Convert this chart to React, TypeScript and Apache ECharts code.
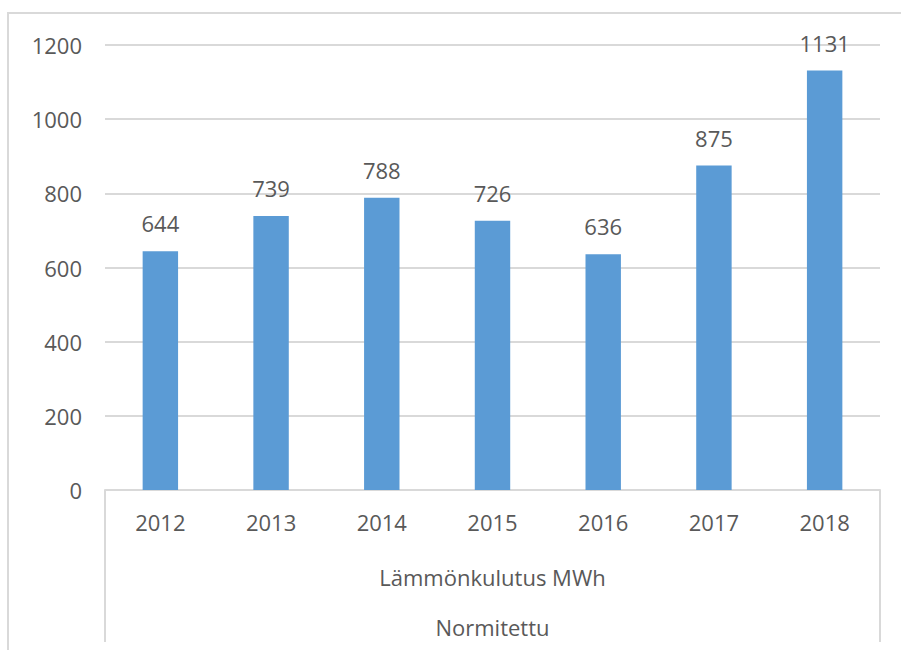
import React, { useEffect, useRef } from "react";
import * as echarts from "echarts";

const categories = ["2012", "2013", "2014", "2015", "2016", "2017", "2018"];
const values = [644, 739, 788, 726, 636, 875, 1131];
const groupLabels = ["Lämmönkulutus MWh", "Normitettu"];

const W = 901;
const H = 650;
const GRID_LEFT = 105;
const GRID_RIGHT = 880;
const GRID_TOP = 45;
const GRID_BOTTOM = 490;
const FONT = "'Open Sans', 'Noto Sans', sans-serif";
const TEXT = "#595959";
const LINE = "#D9D9D9";

export default function App() {
  const ref = useRef<HTMLDivElement>(null);
  useEffect(() => {
    if (!ref.current) return;
    const chart = echarts.init(ref.current, null, { renderer: "svg" });
    const mid = (GRID_LEFT + GRID_RIGHT) / 2;
    chart.setOption({
      animation: false,
      backgroundColor: "#ffffff",
      grid: {
        left: GRID_LEFT,
        right: W - GRID_RIGHT,
        top: GRID_TOP,
        bottom: H - GRID_BOTTOM,
        containLabel: false,
      },
      xAxis: {
        type: "category",
        data: categories,
        axisLine: { show: true, lineStyle: { color: LINE, width: 2 } },
        axisTick: { show: false },
        axisLabel: { color: TEXT, fontSize: 22, fontFamily: FONT, margin: 21 },
      },
      yAxis: {
        type: "value",
        min: 0,
        max: 1200,
        interval: 200,
        axisLine: { show: false },
        axisTick: { show: false },
        axisLabel: {
          color: TEXT,
          fontSize: 22,
          fontFamily: FONT,
          margin: 23,
          formatter: (v: number) => String(v),
        },
        splitLine: { lineStyle: { color: LINE, width: 2 } },
      },
      series: [
        {
          type: "bar",
          data: values,
          barWidth: "32%",
          itemStyle: { color: "#5B9BD5" },
          label: {
            show: true,
            position: "top",
            distance: 17,
            color: TEXT,
            fontSize: 22,
            fontFamily: FONT,
          },
        },
      ],
      graphic: [
        {
          type: "rect",
          shape: { x: 8, y: 13, width: 1200, height: 1200 },
          style: { fill: "none", stroke: LINE, lineWidth: 2 },
          silent: true,
        },
        {
          type: "line",
          shape: { x1: GRID_LEFT, y1: GRID_BOTTOM, x2: GRID_LEFT, y2: 642 },
          style: { stroke: LINE, lineWidth: 2 },
        },
        {
          type: "line",
          shape: { x1: GRID_RIGHT, y1: GRID_BOTTOM, x2: GRID_RIGHT, y2: 642 },
          style: { stroke: LINE, lineWidth: 2 },
        },
        {
          type: "text",
          x: mid,
          y: 577,
          style: {
            text: groupLabels[0],
            fill: TEXT,
            font: `22px ${FONT}`,
            textAlign: "center",
            textVerticalAlign: "middle",
          },
        },
        {
          type: "text",
          x: mid,
          y: 627,
          style: {
            text: groupLabels[1],
            fill: TEXT,
            font: `22px ${FONT}`,
            textAlign: "center",
            textVerticalAlign: "middle",
          },
        },
      ],
    });
    return () => chart.dispose();
  }, []);
  return (
    <div
      ref={ref}
      style={{ width: W, height: H, position: "absolute", left: 0, top: 0 }}
    />
  );
}
